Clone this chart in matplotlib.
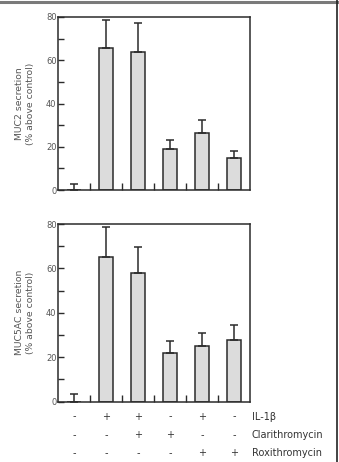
import matplotlib.pyplot as plt
from matplotlib.lines import Line2D
from matplotlib.ticker import MultipleLocator
import numpy as np

# values (% above control)
muc2_mean = [0, 65.5, 64, 19, 26.3, 15]
muc2_err = [3, 13.2, 13.3, 4.2, 6.2, 3.1]
muc5ac_mean = [0, 65, 58, 22, 25, 27.8]
muc5ac_err = [3.2, 13.5, 11.8, 5.2, 6.0, 6.6]

il1b = ["-", "+", "+", "-", "+", "-"]
clari = ["-", "-", "+", "+", "-", "-"]
roxi = ["-", "-", "-", "-", "+", "+"]
row_names = ["IL-1\u03b2", "Clarithromycin", "Roxithromycin"]

W, H = 339, 462
fig = plt.figure(figsize=(W / 100, H / 100), dpi=100)
txt = "#555555"
edge = "#2b2b2b"

def px_axes(left, top, right, bottom):
    return fig.add_axes([left / W, 1 - bottom / H, (right - left) / W, (bottom - top) / H])

def draw_panel(ax, mean, err, label):
    x = np.arange(len(mean)) + 0.5
    ax.bar(x, mean, width=0.45, color="#dcdcdc", edgecolor=edge, linewidth=1.1, zorder=2)
    ax.errorbar(x, mean, yerr=[np.zeros(len(err)), err], fmt="none", ecolor=edge,
                elinewidth=1.1, capsize=2.6, capthick=1.1, zorder=3)
    ax.set_xlim(0, 6)
    ax.set_ylim(0, 80)
    ax.yaxis.set_major_locator(MultipleLocator(20))
    ax.yaxis.set_minor_locator(MultipleLocator(10))
    ax.set_xticks([1, 2, 3, 4, 5])
    ax.set_xticklabels([])
    ax.tick_params(axis="both", which="both", direction="in", color=edge, width=1.0)
    ax.tick_params(axis="y", which="major", length=4, pad=1, labelsize=6, labelcolor=txt)
    ax.tick_params(axis="y", which="minor", length=4)
    ax.tick_params(axis="x", length=5)
    for s in ax.spines.values():
        s.set_color(edge)
        s.set_linewidth(1.1)
    cy = (ax.get_position().y0 + ax.get_position().y1) / 2
    fig.text(25 / W, cy, label, rotation=90, ha="center", va="center",
             multialignment="center", fontsize=6.7, color=txt, linespacing=1.35)

ax1 = px_axes(58, 17, 250, 190)
ax2 = px_axes(58, 224, 250, 401.5)
draw_panel(ax1, muc2_mean, muc2_err, "MUC2 secretion\n(% above control)")
draw_panel(ax2, muc5ac_mean, muc5ac_err, "MUC5AC secretion\n(% above control)")

# treatment table under the lower panel
trans = ax2.get_xaxis_transform()
for r, (row, name) in enumerate(zip([il1b, clari, roxi], row_names)):
    yy = -(15 + 18.3 * r) / 177.5
    for i, s in enumerate(row):
        ax2.text(i + 0.5, yy, s, transform=trans, ha="center", va="center",
                 fontsize=7, color="#333333", clip_on=False)
    ax2.text(6.05, yy, name, transform=trans, ha="left", va="center",
             fontsize=7, color="#333333", clip_on=False)

# frame lines of the original figure
fig.add_artist(Line2D([0, 1], [1 - 1.5 / H] * 2, color="#7a7a7a", lw=2.2))
fig.add_artist(Line2D([337 / W] * 2, [0, 1], color="#222222", lw=1.2))

fig.savefig("out.png", dpi=100)
